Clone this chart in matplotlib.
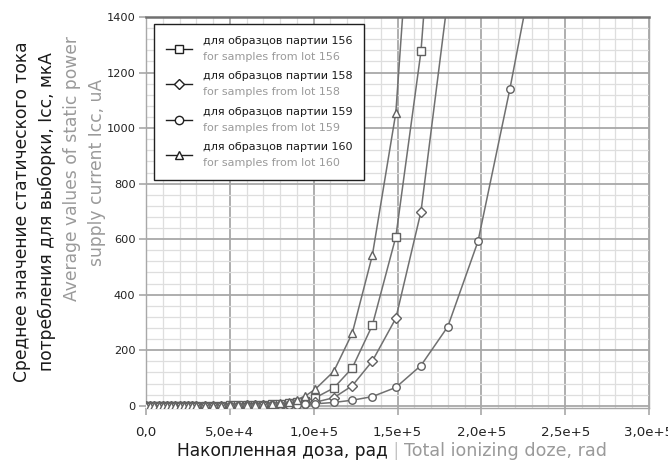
import numpy as np
import matplotlib
matplotlib.use("Agg")
import matplotlib.pyplot as plt
from matplotlib.lines import Line2D
from matplotlib.ticker import MultipleLocator

plt.rcParams['font.family'] = ['DejaVu Sans']

nan = np.nan
dose = [0, 2500, 5000, 7500, 10000, 12500, 15000, 17500, 20000, 22500, 25000, 27500,
        30000, 35000, 40000, 45000, 50000, 55000, 60000, 65000, 70000, 75000, 80000,
        85000, 90000, 95000, 101000, 112000, 123000, 135000, 149000, 164000, 180000,
        198000, 217000, 238000]

lot156 = [0, 0, 0, 0, 0, 0, 0, 0, 0, 0, 0, 0, 0, 1, 1, 1, 2, 2, 3, 3, 4, 5, 7, 9, 12,
          18, 29, 64, 136, 290, 608, 1276, 2550, nan, nan, nan]
lot158 = [0, 0, 0, 0, 0, 0, 0, 0, 0, 0, 0, 0, 0, 0, 1, 1, 1, 1, 2, 2, 2, 3, 3, 4, 5,
          8, 13, 29, 72, 161, 315, 699, 1468, nan, nan, nan]
lot159 = [0, 0, 0, 0, 0, 0, 0, 0, 0, 0, 0, 0, 0, 0, 0, 1, 1, 1, 1, 1, 2, 2, 2, 3, 3,
          5, 7, 12, 20, 33, 66, 145, 285, 592, 1140, 1800]
lot160 = [0, 0, 0, 0, 0, 0, 0, 0, 0, 0, 0, 0, 0, 1, 1, 1, 2, 2, 3, 3, 4, 6, 9, 14, 22,
          35, 60, 124, 261, 542, 1055, 2345, nan, nan, nan, nan]

series = [lot156, lot158, lot159, lot160]
markers = ['s', 'D', 'o', '^']
labels_ru = ['для образцов партии 156', 'для образцов партии 158',
             'для образцов партии 159', 'для образцов партии 160']
labels_en = ['for samples from lot 156', 'for samples from lot 158',
             'for samples from lot 159', 'for samples from lot 160']

xticks = [0, 50000, 100000, 150000, 200000, 250000, 300000]
xticklabels = ['0,0', '5,0e+4', '1,0e+5', '1,5e+5', '2,0e+5', '2,5e+5', '3,0e+5']
yticks = [0, 200, 400, 600, 800, 1000, 1200, 1400]

fig = plt.figure(figsize=(6.68, 4.65), dpi=100)
fig.subplots_adjust(left=146/668, right=649/668, top=1-17/465, bottom=1-408/465)
ax = fig.add_subplot(111)

line_col = '#707070'
handles = []
for vals, mk in zip(series, markers):
    ms = 5.4 if mk != 'D' else 4.8
    ax.plot(dose, vals, color=line_col, lw=1.1, marker=mk, ms=ms,
            mfc='white', mec='#606060', mew=1.0, zorder=3)
    h = Line2D([], [], color='#202020', lw=1.0, marker=mk, ms=ms + 0.6,
               mfc='white', mec='#202020', mew=1.0)
    handles.append(h)

ax.set_xlim(0, 300000)
ax.set_ylim(-8, 1400)
ax.set_xticks(xticks)
ax.set_xticklabels(xticklabels)
ax.set_yticks(yticks)
ax.xaxis.set_minor_locator(MultipleLocator(10000))
ax.yaxis.set_minor_locator(MultipleLocator(40))
ax.grid(True, which='major', color='#a8a8a8', lw=1.3, zorder=1)
ax.grid(True, which='minor', color='#dedede', lw=0.9, zorder=0)
ax.set_axisbelow(True)
ax.tick_params(which='minor', length=0)
ax.tick_params(which='major', length=5, width=1.2, color='#a8a8a8', direction='out')
ax.tick_params(axis='x', pad=8, labelsize=9.6, labelcolor='#222222')
ax.tick_params(axis='y', pad=2.5, labelsize=8.2, labelcolor='#222222')
for side, sp in ax.spines.items():
    sp.set_color('#a8a8a8')
    sp.set_linewidth(1.0)
ax.spines['top'].set_color('#707070')
ax.spines['top'].set_linewidth(1.8)

# legend: two overlapping legends (Russian black + English grey)
leg_kw = dict(loc='upper left', bbox_to_anchor=((154 - 146)/503, (408 - 24)/391),
              fontsize=8, handlelength=2.35, handletextpad=1.0, borderpad=1.05,
              labelspacing=0.85, borderaxespad=0.0)
leg1 = ax.legend(handles, [r + '\n ' for r in labels_ru], frameon=True, fancybox=False,
                 edgecolor='#202020', framealpha=1.0, **leg_kw)
leg1.get_frame().set_linewidth(1.0)
for t in leg1.get_texts():
    t.set_color('#1a1a1a')
    t.set_linespacing(1.75)
ax.add_artist(leg1)
inv = [Line2D([], [], color='none', lw=1.0, marker=m, ms=5.8, mfc='none', mec='none')
       for m in markers]
leg2 = ax.legend(inv, [' \n' + e for e in labels_en], frameon=False, **leg_kw)
for t in leg2.get_texts():
    t.set_color('#9a9a9a')
    t.set_linespacing(1.75)

# y-axis label lines
fs = 12.3
fig.text(22/668, 1-212/465, 'Среднее значение статического тока', rotation=90,
         ha='center', va='center', fontsize=fs, color='#1a1a1a')
fig.text(47/668, 1-212/465, 'потребления для выборки, Icc, мкА', rotation=90,
         ha='center', va='center', fontsize=fs, color='#1a1a1a')
fig.text(72/668, 1-168/465, 'Average values of static power', rotation=90,
         ha='center', va='center', fontsize=fs, color='#9a9a9a')
fig.text(97/668, 1-172/465, 'supply current Icc, uA', rotation=90,
         ha='center', va='center', fontsize=fs, color='#9a9a9a')

# x-axis label
t1 = fig.text(177/668, 1-451/465, 'Накопленная доза, рад', ha='left', va='center',
              fontsize=fs, color='#1a1a1a')
t2 = ax.annotate(' | ', xy=(1, 0), xycoords=t1, va='bottom', ha='left',
                 fontsize=fs, color='#c4c4c4', annotation_clip=False)
t3 = ax.annotate('Total ionizing doze, rad', xy=(1, 0), xycoords=t2, va='bottom',
                 ha='left', fontsize=12.6, color='#9a9a9a', annotation_clip=False)

fig.savefig('out.png', dpi=100)
